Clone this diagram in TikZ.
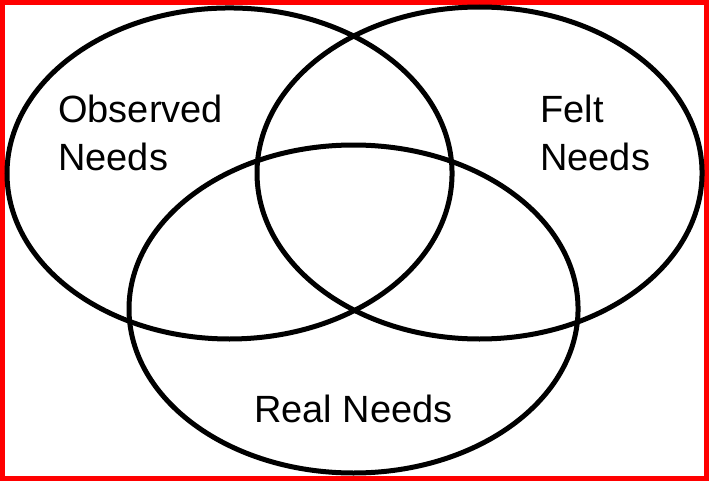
\documentclass[tikz,border=0pt]{standalone}
\usepackage{fontspec}
\setmainfont{Liberation Sans}

\tikzset{
	venn/.style={line width=0.125cm, black},
	needs/.style={inner sep=0pt, align=left, font=\fontsize{27}{34.1}\selectfont},
}

\begin{document}
\begin{tikzpicture}
		% Frame and circles:
		\useasboundingbox (0, 0) rectangle (17.725, 12.025);
		\draw[red, line width=0.13cm] (0.065, 0.065) rectangle (17.66, 11.96);
		\draw[venn] (5.738, 7.688) ellipse (5.563cm and 4.138cm);
		\draw[venn] (11.988, 7.700) ellipse (5.563cm and 4.150cm);
		\draw[venn] (8.838, 4.300) ellipse (5.613cm and 4.100cm);
		% Labels:
		\node[needs, anchor=base west] (observed) at (1.450, 7.775){Observed\\Needs};
		\node[needs, anchor=base west] (felt) at (13.500, 7.775){Felt\\Needs};
		\node[needs, anchor=base] (real) at (8.838, 1.475){Real Needs};
	\end{tikzpicture}
\end{document}
